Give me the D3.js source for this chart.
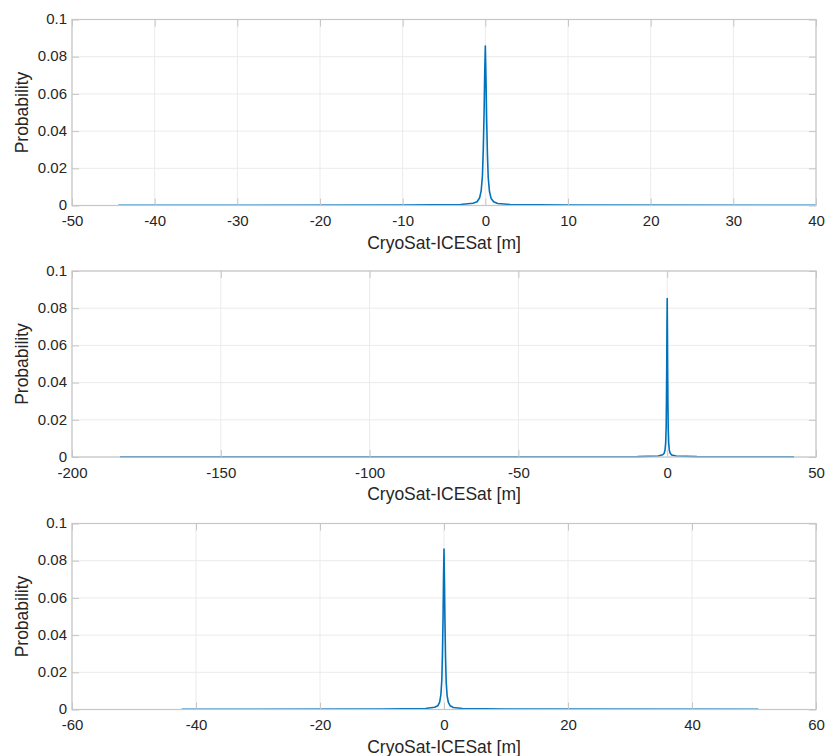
<!DOCTYPE html>
<html><head><meta charset="utf-8">
<script src="https://cdn.jsdelivr.net/npm/d3@7"></script>
<style>body{margin:0;background:#fff;} svg{display:block;font-family:"Liberation Sans",Arial,Helvetica,sans-serif;}</style>
</head><body>
<svg id="c" width="828" height="756"></svg>
<script>
// ---- data ----
const xTicks1 = [-50,-40,-30,-20,-10,0,10,20,30,40];
const xTicks2 = [-200,-150,-100,-50,0,50];
const xTicks3 = [-60,-40,-20,0,20,40,60];
const yTicks = [0,0.02,0.04,0.06,0.08,0.1];
const yTickLabels = ["0","0.02","0.04","0.06","0.08","0.1"];
const xLabel = "CryoSat-ICESat [m]";
const yLabel = "Probability";

const diff1 = [-44.4,-10,-3,-1.5,-1.0,-0.7,-0.5,-0.35,-0.25,-0.15,-0.08,0,0.08,0.15,0.25,0.35,0.5,0.7,1.0,1.5,3,10,40];
const prob1 = [0.0001,0.0002,0.0005,0.0012,0.002,0.004,0.008,0.016,0.03,0.05,0.07,0.0857,0.068,0.048,0.028,0.015,0.0075,0.0038,0.002,0.0011,0.0005,0.0002,0.0001];

const diff2 = [-183.9,-50,-10,-3,-1.5,-1.0,-0.7,-0.5,-0.35,-0.25,-0.15,-0.08,0,0.08,0.15,0.25,0.35,0.5,0.7,1.0,1.5,3,10,42.6];
const prob2 = [0.0001,0.0001,0.0002,0.0005,0.0012,0.002,0.004,0.008,0.016,0.03,0.05,0.07,0.0852,0.068,0.048,0.028,0.015,0.0075,0.0038,0.002,0.0011,0.0005,0.0002,0.0001];

const diff3 = [-42.3,-10,-3,-1.5,-1.0,-0.7,-0.5,-0.35,-0.25,-0.15,-0.08,0,0.08,0.15,0.25,0.35,0.5,0.7,1.0,1.5,3,10,50.7];
const prob3 = [0.0001,0.0002,0.0005,0.0012,0.002,0.004,0.008,0.016,0.03,0.05,0.07,0.0863,0.068,0.048,0.028,0.015,0.0075,0.0038,0.002,0.0011,0.0005,0.0002,0.0001];

const panels = [
  {xs: diff1, ys: prob1, dom: [-50,40], ticks: xTicks1, top: 19.5},
  {xs: diff2, ys: prob2, dom: [-200,50], ticks: xTicks2, top: 271},
  {xs: diff3, ys: prob3, dom: [-60,60], ticks: xTicks3, top: 523.5}
];

const svg = d3.select("#c");
const left = 72, right = 816, H = 186;
const gridCol = "#ebebeb", axCol = "#c6c6c6", txtCol = "#262626", lineCol = "#0072BD";
const tickLen = 7;
const fmtX = d => String(d); // plain hyphen-minus, as in the reference

panels.forEach(p => {
  const x = d3.scaleLinear().domain(p.dom).range([left, right]);
  const y = d3.scaleLinear().domain([0, 0.1]).range([p.top + H, p.top]);
  const g = svg.append("g");

  // grid
  g.selectAll(".gx").data(p.ticks).join("line")
    .attr("x1", d => x(d)).attr("x2", d => x(d)).attr("y1", p.top).attr("y2", p.top + H)
    .attr("stroke", gridCol).attr("stroke-width", 1);
  g.selectAll(".gy").data(yTicks).join("line")
    .attr("x1", left).attr("x2", right).attr("y1", d => y(d)).attr("y2", d => y(d))
    .attr("stroke", gridCol).attr("stroke-width", 1);

  // data line
  const line = d3.line().x((d, i) => x(p.xs[i])).y(d => y(d));
  g.append("path").datum(p.ys).attr("d", line)
    .attr("fill", "none").attr("stroke", lineCol).attr("stroke-width", 1.6)
    .attr("stroke-linejoin", "round");

  // box
  g.append("rect").attr("x", left).attr("y", p.top).attr("width", right - left).attr("height", H)
    .attr("fill", "none").attr("stroke", axCol).attr("stroke-width", 1.2);

  // inward ticks on all sides
  const xb = d3.axisBottom(x).tickValues(p.ticks).tickSize(-tickLen).tickFormat(fmtX);
  const xt = d3.axisTop(x).tickValues(p.ticks).tickSize(-tickLen).tickFormat("");
  const yl = d3.axisLeft(y).tickValues(yTicks).tickSize(-tickLen).tickFormat((d, i) => yTickLabels[i]);
  const yr = d3.axisRight(y).tickValues(yTicks).tickSize(-tickLen).tickFormat("");

  const style = sel => {
    sel.select(".domain").remove();
    sel.selectAll(".tick line").attr("stroke", axCol);
    sel.selectAll(".tick text").attr("fill", txtCol).style("font-size", "15px")
      .style("font-family", '"Liberation Sans",Arial,sans-serif');
  };
  g.append("g").attr("transform", `translate(0,${p.top + H})`).call(xb).call(style)
    .selectAll(".tick text").attr("y", 10).attr("dy", "0.71em");
  g.append("g").attr("transform", `translate(0,${p.top})`).call(xt).call(style);
  g.append("g").attr("transform", `translate(${left},0)`).call(yl).call(style)
    .selectAll(".tick text").attr("x", -5).attr("dy", "0.28em");
  g.append("g").attr("transform", `translate(${right},0)`).call(yr).call(style);

  // labels
  g.append("text").attr("x", (left + right) / 2).attr("y", p.top + H + 43)
    .attr("text-anchor", "middle").attr("fill", txtCol).style("font-size", "17.5px").text(xLabel);
  g.append("text").attr("transform", `translate(28,${p.top + H / 2}) rotate(-90)`)
    .attr("text-anchor", "middle").attr("fill", txtCol).style("font-size", "17.5px").text(yLabel);
});
</script>
</body></html>
